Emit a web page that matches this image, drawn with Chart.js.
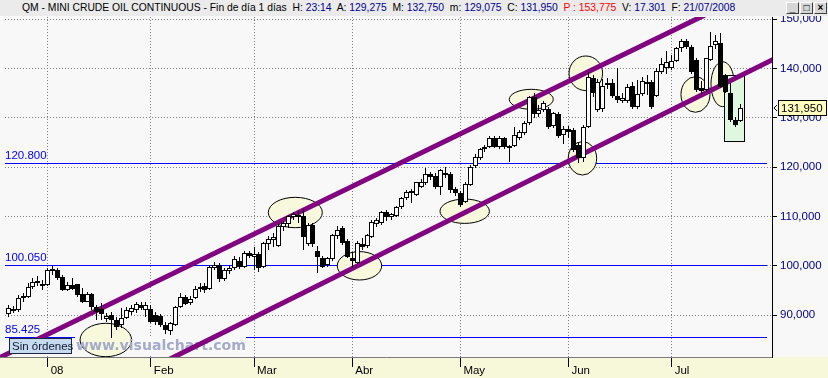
<!DOCTYPE html>
<html lang="es">
<head>
<meta charset="UTF-8">
<title>QM - Mini Crude Oil Continuous</title>
<script src="https://cdn.jsdelivr.net/npm/chart.js"></script>
<style>
  html, body { margin:0; padding:0; background:#f8f8f8; }
  #wrap { position:relative; width:828px; height:378px; overflow:hidden; font-family:'Liberation Sans', Arial, sans-serif; }
  #chart { position:absolute; left:0; top:0; }
  #bar { position:absolute; left:0; top:0; width:828px; height:16px; background:#ebebeb; }
  #ttl { position:absolute; left:22px; top:1px; font-size:11.5px; line-height:13px; white-space:pre; transform-origin:left top; }
  .btn { position:absolute; top:2px; width:11px; height:10px; background:#d6d6d6; border:1px solid; border-color:#fff #404040 #404040 #fff; font-size:10px; line-height:9px; text-align:center; font-weight:bold; color:#000; }
</style>
</head>
<body>
<div id="wrap">
  <canvas id="chart" width="828" height="378"></canvas>
  <div id="bar">
    <span id="ttl"></span>
    <div class="btn" style="left:786px">_</div>
    <div class="btn" style="left:800px">□</div>
    <div class="btn" style="left:814px">×</div>
  </div>
</div>

<script>
// daily candles, 19/12/2007 .. 21/07/2008 (index 0..149)
const opens = [
  90.2, 91.3, 91.0, 93.4, 93.7, 95.6, 96.9, 96.3,
  96.1, 98.9, 99.1, 97.8, 95.1, 96.1, 96.25, 94.2, 92.7, 94.3, 91.7, 91.2, 89.2, 90.0, 89.0, 88.0, 89.35, 90.6, 91.0, 92.05, 91.0,
  91.2, 90.0, 89.8, 88.0, 86.8, 88.0, 91.7, 93.6, 92.4, 93.4, 95.2, 95.9, 95.2, 99.5, 100.2, 97.3, 99.0, 99.5, 101.0, 99.8, 102.65,
  101.8, 102.4, 99.8, 104.5, 105.2, 104.0, 107.8, 108.5, 109.8, 110.3, 110.1, 104.5, 108.3, 103.0, 101.5, 100.2, 101.3, 106.0, 107.6, 105.0,
  101.6, 100.6, 104.5, 104.1, 105.9, 108.5, 108.6, 111.0, 109.8, 110.1, 111.9, 113.7, 114.7, 114.4, 116.05, 116.7, 118.6, 118.3, 116.05, 118.9, 118.7, 115.5,
  114.7, 113.0, 116.4, 120.2, 121.9, 123.6, 124.2, 126.0, 124.0, 125.9, 123.8, 124.3, 126.0, 127.0, 129.0, 134.2, 130.8, 131.6, 131.9, 128.4, 130.8, 126.5,
  127.7, 127.6, 124.5, 121.8, 128.2, 138.0, 131.6, 131.8, 137.1, 137.1, 134.5, 133.4, 133.4, 136.5, 132.3, 134.85, 137.2, 137.2, 134.5, 139.4, 140.05,
  140.2, 141.5, 144.2, 145.6, 144.45, 141.7, 136.1, 135.7, 141.7, 144.8, 145.1, 138.8, 135.0, 129.6, 129.275
];
const highs = [
  92.05, 91.8, 94.1, 94.4, 96.5, 97.5, 98.0, 97.1,
  99.6, 100.05, 99.5, 98.1, 96.8, 97.5, 96.4, 95.4, 94.75, 94.4, 92.05, 92.4, 90.4, 90.6, 89.7, 91.4, 91.7, 92.05, 92.7, 92.7, 92.7,
  92.05, 90.7, 90.3, 88.5, 88.65, 91.9, 94.55, 94.1, 93.8, 95.9, 96.5, 96.5, 100.2, 100.7, 100.6, 99.55, 100.0, 102.0, 101.8, 103.1, 103.1,
  103.9, 102.7, 104.9, 106.0, 106.6, 108.4, 109.0, 110.3, 111.0, 111.2, 111.5, 108.6, 108.6, 104.0, 102.0, 101.8, 106.5, 108.0, 108.0, 105.5,
  102.9, 105.0, 105.6, 106.5, 109.3, 109.6, 111.2, 111.4, 110.8, 112.2, 114.0, 115.4, 115.5, 117.1, 117.6, 119.9, 119.0, 118.8, 119.7, 120.1, 119.0, 116.0,
  115.1, 117.0, 120.4, 122.7, 123.9, 124.6, 126.4, 126.4, 126.4, 126.1, 124.6, 128.1, 127.6, 129.4, 134.5, 135.0, 132.6, 133.5, 132.2, 131.2, 131.1, 128.4,
  128.3, 128.0, 125.0, 128.6, 139.3, 138.8, 137.9, 137.8, 138.0, 137.8, 140.05, 135.0, 136.8, 137.3, 137.7, 138.4, 138.8, 137.7, 140.05, 142.1, 143.6,
  142.75, 144.45, 146.0, 146.0, 144.8, 142.1, 137.5, 142.2, 147.5, 146.8, 147.15, 139.0, 137.0, 130.25, 132.75
];
const lows = [
  89.7, 90.4, 90.7, 92.7, 93.5, 95.3, 96.0, 95.1,
  96.0, 98.1, 97.1, 94.9, 94.9, 95.1, 93.7, 92.4, 92.6, 91.0, 89.0, 89.0, 88.7, 85.425, 87.0, 87.3, 89.2, 90.0, 90.4, 91.0, 89.7,
  88.3, 88.0, 87.5, 86.2, 86.0, 87.8, 91.4, 92.0, 92.0, 93.2, 94.6, 94.5, 95.0, 99.1, 96.7, 97.0, 98.4, 99.2, 99.4, 99.6, 101.6,
  99.1, 98.8, 99.5, 103.2, 103.9, 103.8, 107.0, 107.6, 109.2, 108.7, 103.2, 104.0, 103.8, 98.6, 99.5, 99.8, 101.0, 105.5, 104.3, 101.5,
  99.5, 100.3, 103.2, 103.6, 105.6, 107.8, 108.3, 109.0, 109.3, 109.9, 111.6, 113.3, 112.7, 114.2, 115.7, 116.4, 117.5, 115.6, 114.4, 117.8, 114.8, 114.2,
  111.9, 112.7, 116.1, 119.8, 121.4, 123.0, 123.9, 123.8, 123.6, 123.6, 121.0, 124.0, 125.6, 126.6, 128.6, 129.9, 130.1, 131.3, 127.8, 128.0, 125.9, 124.8,
  126.0, 123.0, 120.8, 121.0, 128.0, 134.3, 131.2, 131.3, 135.8, 134.0, 132.95, 132.95, 132.95, 131.9, 131.9, 134.5, 134.6, 131.9, 134.3, 139.0, 139.0,
  139.7, 141.3, 143.3, 144.0, 139.0, 135.3, 134.9, 135.3, 141.5, 144.0, 136.0, 135.0, 129.2, 128.2, 129.075
];
const closes = [
  91.5, 90.9, 93.5, 93.9, 95.8, 96.8, 96.45, 95.9,
  99.1, 99.35, 97.5, 95.1, 96.1, 95.3, 94.1, 92.7, 94.2, 91.7, 90.7, 90.3, 89.9, 89.1, 87.65, 89.5, 91.0, 91.4, 92.2, 91.5, 92.0,
  88.7, 88.6, 87.9, 87.0, 88.45, 91.7, 93.6, 92.25, 93.2, 95.2, 95.8, 95.1, 99.7, 100.1, 97.3, 99.1, 99.5, 101.3, 99.8, 102.65, 102.0,
  102.4, 99.5, 104.6, 105.4, 105.9, 108.1, 108.6, 110.1, 110.5, 110.0, 105.9, 108.3, 104.4, 101.8, 99.8, 101.5, 106.25, 107.3, 104.6, 101.85,
  100.9, 104.7, 103.9, 106.25, 108.95, 109.3, 111.0, 109.8, 110.5, 111.9, 113.7, 115.0, 115.2, 116.9, 116.9, 118.6, 118.1, 116.05, 119.4, 118.4, 115.3, 114.7,
  112.4, 116.5, 120.0, 122.0, 123.6, 124.2, 126.0, 124.1, 125.9, 124.0, 124.3, 126.5, 127.2, 129.0, 134.2, 130.8, 131.6, 133.1, 128.2, 130.9, 126.3, 127.7,
  127.1, 123.5, 121.8, 128.2, 138.2, 135.0, 137.2, 136.4, 136.7, 134.5, 133.6, 134.1, 136.3, 132.3, 134.85, 137.5, 136.8, 132.3, 139.5, 140.9, 141.3,
  141.5, 144.2, 145.6, 144.3, 139.4, 135.7, 135.5, 142.1, 144.65, 145.6, 136.3, 135.3, 129.6, 128.6, 131.95
];

// axes
const monthStarts = [8, 29, 50, 70, 92, 114, 135];
const monthLabels = ['08', 'Feb', 'Mar', 'Abr', 'May', 'Jun', 'Jul'];
const yTickValues = [90, 100, 110, 120, 130, 140, 150];
const yTickLabels = ['90,000', '100,000', '110,000', '120,000', '130,000', '140,000', '150,000'];

// drawn studies (bar index, price)
const levelValues = [120.8, 100.05, 85.425];
const levelLabels = ['120.800', '100.050', '85.425'];
const channelUpper = [[-0.7, 81.9], [140.8, 150.4]];
const channelLower = [[32.9, 81.1], [155.4, 141.74]];
const ellipseX  = [19.83, 58.4, 71.46, 92.88, 106.43, 117.53, 116.85, 139.85, 145.39];
const ellipseY  = [84.95, 110.81, 100.0, 111.07, 133.77, 139.05, 121.8, 134.75, 136.84];
const ellipseRx = [5.25, 5.5, 4.52, 5.03, 4.48, 3.42, 2.89, 2.95, 2.38];
const ellipseRy = [3.39, 3.08, 2.88, 2.47, 2.03, 3.51, 3.39, 3.61, 4.56];
const boxX = [145.86, 149.93];
const boxY = [125.17, 138.56];

// title bar
const titleParts = [
  ['QM - MINI CRUDE OIL CONTINUOUS - Fin de día 1 días  ', '#000'],
  ['H: ', '#000'], ['23:14', '#000090'], ['  A: ', '#000'], ['129,275', '#000090'],
  ['  M: ', '#000'], ['132,750', '#000090'], ['  m: ', '#000'], ['129,075', '#000090'],
  ['  C: ', '#000'], ['131,950', '#000090'], ['  P : 153,775', '#ff0000'],
  ['  V: ', '#000'], ['17.301', '#000090'], ['  F: ', '#000'], ['21/07/2008', '#000090']
];
const ttl = document.getElementById('ttl');
titleParts.forEach(([t, c]) => {
  const s = document.createElement('span');
  s.textContent = t; s.style.color = c;
  ttl.appendChild(s);
});
ttl.style.transform = 'scaleX(' + (713 / ttl.offsetWidth) + ')';

Chart.defaults.font.family = "'Liberation Sans', Arial, sans-serif";

const idx = closes.map((_, i) => i);
const bodyData = idx.map(i => ({ x: i, y: [opens[i], closes[i]] }));
const wickData = idx.map(i => ({ x: i, y: [lows[i], highs[i]] }));
const bodyColors = idx.map(i => closes[i] >= opens[i] ? '#ffffff' : '#000000');

const fmt = v => v.toFixed(3).replace('.', ',');

const studies = {
  id: 'studies',
  afterDatasetsUpdate(chart) {
    // keep candles on whole pixels
    chart.data.datasets.forEach((ds, di) => {
      chart.getDatasetMeta(di).data.forEach(el => {
        el.x = Math.round(el.x - 0.5) + 0.5;
        const t = Math.round(el.y);
        let b = Math.round(el.base);
        if (Math.abs(t - b) < 1) b = t + 1;
        el.y = t; el.base = b;
      });
    });
  },
  beforeDraw(chart) {
    const { ctx, width, height, chartArea: a } = chart;
    ctx.save();
    ctx.fillStyle = '#f8f8f8';
    ctx.fillRect(0, 0, width, height);
    ctx.fillStyle = '#f7f7da';
    ctx.fillRect(0, a.bottom, width, height - a.bottom);
    ctx.restore();
  },
  beforeDatasetsDraw(chart) {
    const { ctx, chartArea: a, scales: { x, y } } = chart;
    const sx = v => x.getPixelForValue(v), sy = v => y.getPixelForValue(v);
    const al = p => Math.round(p - 0.5) + 0.5;
    ctx.save();
    ctx.beginPath();
    ctx.rect(a.left, a.top, a.right - a.left, a.bottom - a.top);
    ctx.clip();

    // dotted grid
    ctx.strokeStyle = '#808080';
    ctx.lineWidth = 1;
    ctx.setLineDash([1, 2]);
    ctx.beginPath();
    yTickValues.forEach(v => { const p = al(sy(v)); ctx.moveTo(5, p); ctx.lineTo(a.right, p); });
    monthStarts.forEach(v => { const p = al(sx(v)); ctx.moveTo(p, a.top); ctx.lineTo(p, a.bottom); });
    ctx.stroke();
    ctx.setLineDash([]);

    // horizontal levels
    ctx.fillStyle = '#0000ff';
    ctx.font = "11.5px 'Liberation Sans', Arial, sans-serif";
    ctx.textBaseline = 'alphabetic';
    levelValues.forEach((v, i) => {
      const p = Math.round(sy(v) - 0.5);
      ctx.fillRect(5, p, 762, 1);
      ctx.fillText(levelLabels[i], 5, p - 4);
    });

    // watermark backing
    ctx.fillStyle = '#f8f8f8';
    ctx.fillRect(75, 337, 171, 19);

    // ellipses
    ctx.fillStyle = '#f8f8dc';
    ctx.strokeStyle = '#000';
    ellipseX.forEach((cx, i) => {
      const px = sx(cx), py = sy(ellipseY[i]);
      const rx = sx(cx + ellipseRx[i]) - px, ry = py - sy(ellipseY[i] + ellipseRy[i]);
      ctx.beginPath();
      ctx.ellipse(px, py, rx, ry, 0, 0, Math.PI * 2);
      ctx.fill(); ctx.stroke();
    });

    // box around last sessions
    const bx0 = al(sx(boxX[0])), bx1 = al(sx(boxX[1]));
    const by0 = al(sy(boxY[1])), by1 = al(sy(boxY[0]));
    ctx.fillStyle = '#dff6df';
    ctx.fillRect(bx0, by0, bx1 - bx0, by1 - by0);
    ctx.strokeRect(bx0, by0, bx1 - bx0, by1 - by0);

    // watermark
    ctx.fillStyle = '#a3abc9';
    ctx.font = "bold 16px 'DejaVu Sans', sans-serif";
    const w = ctx.measureText('www.visualchart.com').width;
    ctx.font = "bold " + (16 * 170 / w).toFixed(2) + "px 'DejaVu Sans', sans-serif";
    ctx.textBaseline = 'middle';
    ctx.fillText('www.visualchart.com', 76, 346);

    // channel
    ctx.strokeStyle = '#800080';
    ctx.lineWidth = 5;
    [channelUpper, channelLower].forEach(([p0, p1]) => {
      const k = (p1[1] - p0[1]) / (p1[0] - p0[0]);
      const xa = x.min - 2, xb = x.max + 2;
      ctx.beginPath();
      ctx.moveTo(sx(xa), sy(p0[1] + k * (xa - p0[0])));
      ctx.lineTo(sx(xb), sy(p0[1] + k * (xb - p0[0])));
      ctx.stroke();
    });
    ctx.restore();
  },
  afterDraw(chart) {
    const { ctx, scales: { y } } = chart;
    ctx.save();
    // order box
    ctx.fillStyle = '#c6dbf0';
    ctx.fillRect(9.5, 338.5, 62, 15);
    ctx.strokeStyle = '#1c2540';
    ctx.lineWidth = 1;
    ctx.strokeRect(9.5, 338.5, 62, 15);
    ctx.fillStyle = '#101830';
    ctx.font = "11.5px 'Liberation Sans', Arial, sans-serif";
    ctx.textBaseline = 'middle';
    ctx.fillText('Sin órdenes', 12, 346.5);

    // last price marker
    const last = closes[closes.length - 1];
    const py = Math.round(y.getPixelForValue(last)) - 0.5;
    ctx.fillStyle = '#ffffc0';
    ctx.fillRect(778.5, py - 7, 48, 15);
    ctx.strokeStyle = '#000';
    ctx.strokeRect(778.5, py - 7, 48, 15);
    ctx.fillStyle = '#000';
    ctx.fillText(fmt(last), 781, py + 1);
    ctx.beginPath();
    ctx.moveTo(777, py - 2.5); ctx.lineTo(774, py + 0.5); ctx.lineTo(777, py + 3.5);
    ctx.stroke();
    ctx.restore();
  }
};

new Chart(document.getElementById('chart'), {
  type: 'bar',
  data: {
    datasets: [
      { label: 'cuerpo', data: bodyData, order: 0, grouped: false, barThickness: 5,
        backgroundColor: bodyColors, borderColor: '#000', borderWidth: 1,
        borderSkipped: false, inflateAmount: 0 },
      { label: 'mecha', data: wickData, order: 1, grouped: false, barThickness: 1,
        backgroundColor: '#000', borderWidth: 0, inflateAmount: 0 }
    ]
  },
  options: {
    responsive: false,
    animation: false,
    events: [],
    layout: { padding: { top: 17, left: 0, right: 0, bottom: 0 } },
    plugins: { legend: { display: false }, tooltip: { enabled: false } },
    scales: {
      x: {
        type: 'linear', position: 'bottom', min: -1.71, max: 155.43, offset: false,
        afterBuildTicks: s => { s.ticks = monthStarts.map(v => ({ value: v })); },
        afterFit: s => { s.height = 21; },
        grid: { drawOnChartArea: false, drawTicks: true, tickLength: 10, tickColor: '#000', offset: false },
        border: { display: true, color: '#7a7a7a' },
        ticks: {
          callback: (v, i) => monthLabels[i], align: 'start', labelOffset: 3, padding: -3,
          autoSkip: false, maxRotation: 0, color: '#000', font: { size: 11.5 }
        }
      },
      y: {
        type: 'linear', position: 'right', min: 81.5, max: 150.47,
        afterBuildTicks: s => { s.ticks = yTickValues.map(v => ({ value: v })); },
        afterFit: s => { s.width = 56; },
        grid: { drawOnChartArea: false, drawTicks: true, tickLength: 5, tickColor: '#000' },
        border: { display: true, color: '#000' },
        ticks: { callback: (v, i) => yTickLabels[i], padding: 3, color: '#000080', font: { size: 11.5 } }
      }
    }
  },
  plugins: [studies]
});
</script>
</body>
</html>
